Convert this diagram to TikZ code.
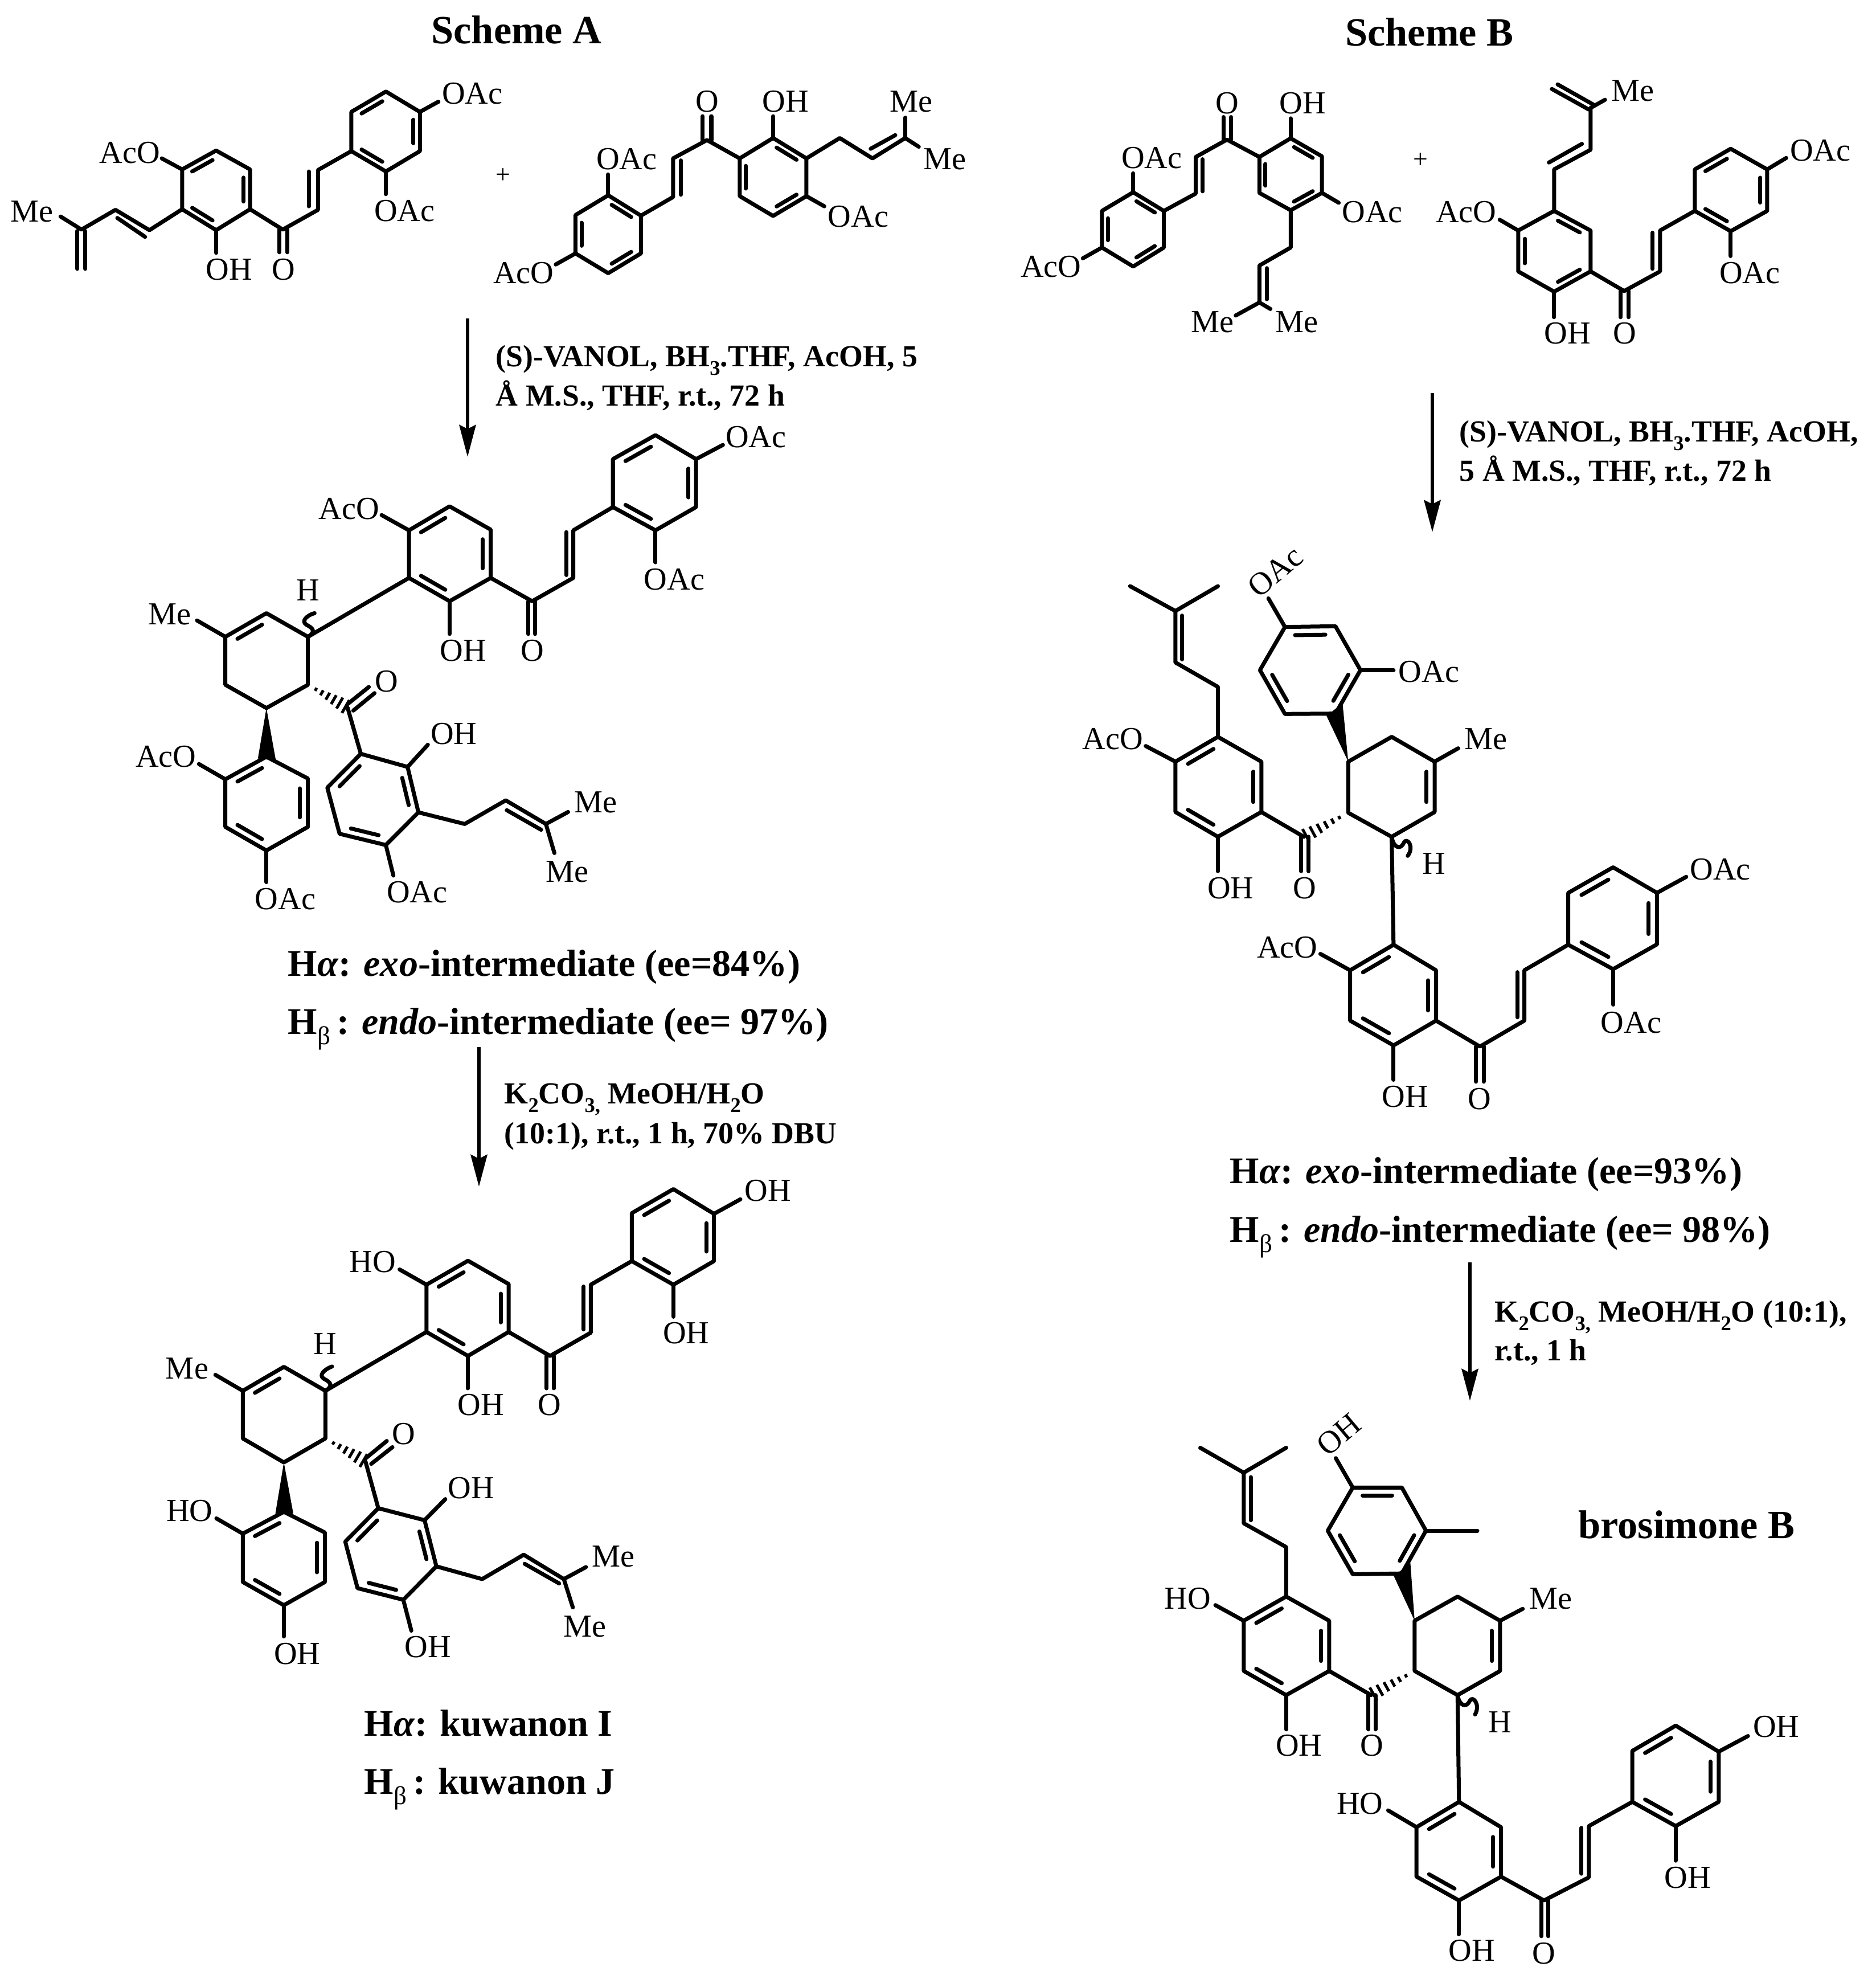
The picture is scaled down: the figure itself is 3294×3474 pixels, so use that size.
\documentclass[tikz,border=0pt]{standalone}
\usepackage{fontspec}
\usepackage{graphicx}
\setmainfont{Liberation Serif}
\usetikzlibrary{calc,arrows.meta}
\newcounter{lb}
\newcommand{\sbs}[1]{\raisebox{-.28em}{\scalebox{.68}{#1}}}
\tikzset{
  bond/.style={line width=.07cm,line cap=round,line join=round,black},
  atom/.style={font=\fontsize{16}{18}\selectfont,inner sep=0pt},
  head/.style={font=\fontsize{18.8}{22}\selectfont\bfseries,inner sep=0pt,anchor=base west},
  titl/.style={font=\fontsize{20}{22}\selectfont\bfseries,inner sep=0pt,anchor=base},
  reag/.style={font=\fontsize{15.3}{18}\selectfont\bfseries,inner sep=0pt,anchor=base west},
  rxn/.style={line width=.06cm,-{Stealth[length=.56cm,width=.29cm,inset=.07cm]}},
}
\newcommand{\lab}[3][]{\stepcounter{lb}\node[atom,#1] (lb\thelb) at (#2) {#3};}
\newcommand{\hexring}[7]{%
  \coordinate (#1-1) at (#2);\coordinate (#1-2) at (#3);\coordinate (#1-3) at (#4);
  \coordinate (#1-4) at (#5);\coordinate (#1-5) at (#6);\coordinate (#1-6) at (#7);
  \coordinate (#1-c) at (barycentric cs:#1-1=1,#1-4=1);
  \draw[bond] (#1-1)--(#1-2)--(#1-3)--(#1-4)--(#1-5)--(#1-6)--cycle;}
\newcommand{\dbl}[3]{\draw[bond] ($(#1-#2)!.13!(#1-#3)!.19!(#1-c)$) -- ($(#1-#3)!.13!(#1-#2)!.19!(#1-c)$);}
\newcommand{\hashw}[2]{\foreach \t/\w in {.2/.03cm,.35/.05cm,.5/.07cm,.65/.09cm,.8/.11cm,.95/.13cm}
  \draw[line width=.05cm] ($(#1)!\t!(#2)!\w!90:(#2)$) -- ($(#1)!\t!(#2)!\w!-90:(#2)$);}
\begin{document}
\begin{tikzpicture}[x=.01cm,y=-.01cm]
\path[use as bounding box] (0,0) rectangle (3294,3474);
% ---------- texts and arrows
\node[titl] (ta) at (907,76) {Scheme A};
\node[titl] (tb) at (2510,80) {Scheme B};
\node[reag] (r1a) at (870,643) {(S)-VANOL, BH\sbs{3}.THF, AcOH, 5};
\node[reag] (r1b) at (870,712) {Å M.S., THF, r.t., 72 h};
\node[head] (h1a) at (505,1713) {H\textit{α}: \textit{exo}-intermediate (ee=84\%)};
\node[head] (h1b) at (505,1815) {H\sbs{\mdseries β}\,: \textit{endo}-intermediate (ee= 97\%)};
\node[reag] (r2a) at (885,1937) {K\sbs{2}CO\sbs{3,} MeOH/H\sbs{2}O};
\node[reag] (r2b) at (885,2007) {(10:1), r.t., 1 h, 70\% DBU};
\node[head] (k1a) at (639,3047) {H\textit{α}: kuwanon I};
\node[head] (k1b) at (639,3149) {H\sbs{\mdseries β}\,: kuwanon J};
\node[reag] (r3a) at (2562,775) {(S)-VANOL, BH\sbs{3}.THF, AcOH,};
\node[reag] (r3b) at (2562,844) {5 Å M.S., THF, r.t., 72 h};
\node[head] (h2a) at (2159,2077) {H\textit{α}: \textit{exo}-intermediate (ee=93\%)};
\node[head] (h2b) at (2159,2180) {H\sbs{\mdseries β}\,: \textit{endo}-intermediate (ee= 98\%)};
\node[reag] (r4a) at (2624,2320) {K\sbs{2}CO\sbs{3,} MeOH/H\sbs{2}O (10:1),};
\node[reag] (r4b) at (2624,2388) {r.t., 1 h};
\coordinate (a1s) at (821,559); \coordinate (a1e) at (821,802);
\coordinate (a2s) at (841,1838); \coordinate (a2e) at (841,2083);
\coordinate (a3s) at (2515,690); \coordinate (a3e) at (2515,934);
\coordinate (a4s) at (2581,2216); \coordinate (a4e) at (2581,2459);
\draw[rxn] (a1s)--(a1e);
\draw[rxn] (a2s)--(a2e);
\draw[rxn] (a3s)--(a3e);
\draw[rxn] (a4s)--(a4e);
% ---------- top of scheme A
\begin{scope}[shift={(0,0)},x=1.0842*.01cm,y=-.5102*.01cm]
\hexring{a}{350,518}{405,583}{405,720}{350,792}{295,720}{295,583}
\dbl{a}{6}{1}\dbl{a}{2}{3}\dbl{a}{5}{4}
\lab{210,525}{AcO}\draw[bond] (a-6)--(262,545);
\draw[bond] (a-4)--(350,870);\lab{371,927}{OH}
\lab{52,728}{Me}
\draw[bond] (98,745)--(132,790)--(187,722)--(242,792)--(a-5);
\draw[bond] (190,750)--(235,815);
\draw[bond] (125,795)--(125,925) (138,795)--(138,925);
\draw[bond] (a-3)--(458,790)--(515,722)--(515,585)--(569,520);
\draw[bond] (452,790)--(452,868) (465,790)--(465,868);\lab{459,927}{O}
\draw[bond] (500,590)--(500,710);
\hexring{b}{625,315}{680,385}{680,520}{625,590}{569,520}{569,385}
\dbl{b}{6}{1}\dbl{b}{2}{3}\dbl{b}{5}{4}
\lab{765,322}{OAc}\draw[bond] (b-2)--(710,350);
\draw[bond] (b-4)--(625,668);\lab{655,725}{OAc}
\node[font=\fontsize{13}{15}\selectfont,inner sep=0pt] (plusa) at (815,605) {+};
\hexring{c}{985,672}{1038,742}{1038,872}{985,940}{932,872}{932,740}
\dbl{c}{1}{2}\dbl{c}{3}{4}\dbl{c}{5}{6}
\lab{1015,548}{OAc}\draw[bond] (c-1)--(985,600);
\lab{848,940}{AcO}\draw[bond] (c-5)--(900,910);
\hexring{d}{1252,475}{1306,545}{1306,675}{1252,743}{1198,675}{1198,545}
\dbl{d}{1}{2}\dbl{d}{3}{4}\dbl{d}{5}{6}
\draw[bond] (c-2)--(1090,678)--(1090,545)--(1145,482)--(d-6);
\draw[bond] (1103,552)--(1103,670);
\draw[bond] (1138,482)--(1138,400) (1152,482)--(1152,400);\lab{1145,350}{O}
\draw[bond] (d-1)--(1252,400);\lab{1272,350}{OH}
\draw[bond] (d-3)--(1335,710);\lab{1390,745}{OAc}
\draw[bond] (d-2)--(1360,475)--(1413,545)--(1466,475)--(1466,405);
\draw[bond] (1410,512)--(1450,465);
\draw[bond] (1466,475)--(1488,505);
\lab{1476,350}{Me}\lab{1530,548}{Me}
\end{scope}
% ---------- intermediate A
\begin{scope}[shift={(200,700)},x=.829*.01cm,y=-.638*.01cm]
\hexring{e}{711,296}{798,360}{798,493}{711,557}{625,493}{625,362}
\dbl{e}{6}{1}\dbl{e}{2}{3}\dbl{e}{5}{4}
\lab{498,302}{AcO}\draw[bond] (e-6)--(567,320);
\draw[bond] (e-4)--(711,647);\lab{740,693}{OH}
\hexring{f}{1147,100}{1233,166}{1233,298}{1147,362}{1057,298}{1057,166}
\dbl{f}{6}{1}\dbl{f}{2}{3}\dbl{f}{5}{4}
\draw[bond] (e-3)--(886,557)--(973,493)--(973,362)--(f-5);
\draw[bond] (958,367)--(958,485);
\draw[bond] (878,557)--(878,647) (892,557)--(892,647);\lab{886,693}{O}
\lab{1360,105}{OAc}\draw[bond] (f-2)--(1290,127);
\lab{1187,497}{OAc}\draw[bond] (f-4)--(1147,450);
\hexring{g}{323,590}{411,655}{411,787}{323,851}{236,787}{236,655}
\dbl{g}{6}{1}
\draw[bond] (e-5)--(g-2);
\draw[bond] (g-2) .. controls (430,640) and (420,630) .. (408,622) .. controls (395,612) and (410,595) .. (425,590);
\lab{411,527}{H}
\draw[bond] (g-6)--(176,610);\lab{118,593}{Me}
\coordinate (eo) at (495,850);
\hashw{g-3}{eo}
\draw[bond] (495,840)--(540,793) (507,858)--(552,810);\lab{577,777}{O}
\hexring{h}{523,977}{622,1013}{645,1138}{576,1228}{478,1197}{452,1070}
\dbl{h}{1}{6}\dbl{h}{2}{3}\dbl{h}{4}{5}
\draw[bond] (eo)--(h-1);
\draw[bond] (h-2)--(665,952);\lab{720,922}{OH}
\draw[bond] (h-4)--(592,1312);\lab{642,1358}{OAc}
\draw[bond] (h-3)--(743,1170)--(830,1105)--(915,1170)--(962,1137);
\draw[bond] (832,1132)--(905,1186);
\draw[bond] (915,1170)--(933,1250);
\lab{1020,1110}{Me}\lab{960,1302}{Me}
\hexring{i}{323,985}{411,1045}{411,1178}{323,1243}{236,1178}{236,1047}
\dbl{i}{6}{1}\dbl{i}{2}{3}\dbl{i}{5}{4}
\fill (g-4)--(305,990)--(343,995)--cycle;
\draw[bond] (i-6)--(180,1005);\lab{110,985}{AcO}
\draw[bond] (i-4)--(323,1330);\lab{363,1377}{OAc}
\end{scope}
% ---------- kuwanon
\begin{scope}[shift={(200,2000)},x=.829*.01cm,y=-.638*.01cm]
\hexring{j}{750,334}{836,398}{836,530}{750,596}{662,530}{662,400}
\dbl{j}{6}{1}\dbl{j}{2}{3}\dbl{j}{5}{4}
\lab{548,337}{HO}\draw[bond] (j-6)--(605,358);
\draw[bond] (j-4)--(750,685);\lab{777,730}{OH}
\hexring{k}{1185,137}{1271,205}{1271,335}{1185,400}{1097,335}{1097,203}
\dbl{k}{6}{1}\dbl{k}{2}{3}\dbl{k}{5}{4}
\draw[bond] (j-3)--(924,596)--(1010,532)--(1010,400)--(k-5);
\draw[bond] (995,405)--(995,523);
\draw[bond] (916,596)--(916,685) (932,596)--(932,685);\lab{923,730}{O}
\lab{1385,142}{OH}\draw[bond] (k-2)--(1327,165);
\lab{1212,533}{OH}\draw[bond] (k-4)--(1185,488);
\hexring{l}{360,626}{448,692}{448,823}{360,889}{273,823}{273,692}
\dbl{l}{6}{1}
\draw[bond] (j-5)--(l-2);
\draw[bond] (l-2) .. controls (467,677) and (457,667) .. (445,659) .. controls (432,649) and (447,632) .. (462,625);
\lab{447,563}{H}
\draw[bond] (l-6)--(215,648);\lab{155,630}{Me}
\coordinate (jo) at (533,887);
\hashw{l-3}{jo}
\draw[bond] (533,878)--(578,830) (545,893)--(590,847);\lab{614,811}{O}
\hexring{m}{560,1015}{658,1048}{683,1175}{613,1267}{516,1235}{490,1107}
\dbl{m}{1}{6}\dbl{m}{2}{3}\dbl{m}{4}{5}
\draw[bond] (jo)--(m-1);
\draw[bond] (m-2)--(702,990);\lab{757,960}{OH}
\draw[bond] (m-4)--(630,1352);\lab{665,1397}{OH}
\draw[bond] (m-3)--(780,1210)--(868,1143)--(953,1210)--(1000,1177);
\draw[bond] (870,1168)--(943,1222);
\draw[bond] (953,1210)--(972,1288);
\lab{1058,1148}{Me}\lab{997,1340}{Me}
\hexring{n}{360,1025}{447,1082}{447,1218}{360,1282}{273,1218}{273,1085}
\dbl{n}{6}{1}\dbl{n}{2}{3}\dbl{n}{5}{4}
\fill (l-4)--(342,1030)--(380,1030)--cycle;
\draw[bond] (n-6)--(217,1043);\lab{160,1022}{HO}
\draw[bond] (n-4)--(360,1368);\lab{388,1415}{OH}
\end{scope}
% ---------- top of scheme B
\begin{scope}[shift={(1700,0)},x=1.0166*.01cm,y=-.574*.01cm]
\hexring{o}{285,588}{338,645}{338,757}{285,815}{231,757}{231,645}
\dbl{o}{1}{2}\dbl{o}{3}{4}\dbl{o}{5}{6}
\lab{317,482}{OAc}\draw[bond] (o-1)--(285,530);
\lab{143,815}{AcO}\draw[bond] (o-5)--(198,790);
\hexring{p}{557,423}{611,478}{611,590}{557,643}{503,590}{503,480}
\dbl{p}{1}{2}\dbl{p}{3}{4}\dbl{p}{5}{6}
\draw[bond] (o-2)--(393,592)--(393,480)--(447,427)--(p-6);
\draw[bond] (405,487)--(405,585);
\draw[bond] (441,427)--(441,358) (454,427)--(454,358);\lab{447,315}{O}
\draw[bond] (p-1)--(557,362);\lab{578,315}{OH}
\draw[bond] (p-3)--(640,620);\lab{698,648}{OAc}
\draw[bond] (p-4)--(557,757)--(503,812)--(503,925)--(462,965);
\draw[bond] (516,820)--(516,915);
\draw[bond] (503,925)--(522,945);
\lab{422,985}{Me}\lab{568,985}{Me}
\node[font=\fontsize{13}{15}\selectfont,inner sep=0pt] (plusb) at (781,490) {+};
\draw[bond] (1018,258)--(1080,320) (1008,272)--(1072,335);
\lab{1148,277}{Me}\draw[bond] (1075,330)--(1100,305);
\hexring{q}{1012,645}{1075,705}{1075,830}{1012,892}{950,830}{950,705}
\dbl{q}{1}{2}\dbl{q}{3}{4}\dbl{q}{5}{6}
\draw[bond] (1075,330)--(1075,458)--(1012,518)--(q-1);
\draw[bond] (1060,440)--(1003,497);
\lab{860,648}{AcO}\draw[bond] (q-6)--(918,672);
\draw[bond] (q-4)--(1012,970);\lab{1035,1020}{OH}
\hexring{r}{1317,455}{1380,518}{1380,645}{1317,707}{1255,645}{1255,518}
\dbl{r}{6}{1}\dbl{r}{2}{3}\dbl{r}{5}{4}
\draw[bond] (q-3)--(1133,890)--(1195,830)--(1195,705)--(r-5);
\draw[bond] (1182,712)--(1182,822);
\draw[bond] (1127,890)--(1127,970) (1141,890)--(1141,970);\lab{1134,1020}{O}
\lab{1472,460}{OAc}\draw[bond] (r-2)--(1413,483);
\lab{1350,835}{OAc}\draw[bond] (r-4)--(1317,783);
\end{scope}
% ---------- intermediate B
\begin{scope}[shift={(1850,950)},x=.829*.01cm,y=-.6696*.01cm]
\hexring{s}{348,513}{440,578}{440,710}{348,775}{258,710}{258,578}
\dbl{s}{6}{1}\dbl{s}{2}{3}\dbl{s}{5}{4}
\draw[bond] (162,118)--(258,183)--(348,118) (258,183)--(258,318)--(348,382)--(s-1);
\draw[bond] (272,195)--(272,310);
\lab{125,518}{AcO}\draw[bond] (s-6)--(195,537);
\draw[bond] (s-4)--(348,865);\lab{375,910}{OH}
\coordinate (so) at (530,775);
\draw[bond] (s-3)--(so);
\draw[bond] (524,775)--(524,865) (540,775)--(540,865);\lab{532,910}{O}
\hexring{t}{716,513}{807,578}{807,710}{716,775}{624,712}{624,578}
\dbl{t}{2}{3}
\hashw{t-5}{so}
\draw[bond] (t-2)--(857,543);\lab{915,518}{Me}
\hexring{u}{490,225}{597,223}{650,338}{597,452}{490,453}{437,338}
\dbl{u}{1}{2}\dbl{u}{3}{4}\dbl{u}{5}{6}
\fill (t-6)--(578,458)--(612,425)--cycle;
\draw[bond] (u-1)--(455,150);\lab[rotate=40]{470,80}{OAc}
\draw[bond] (u-3)--(720,338);\lab{795,342}{OAc}
\draw[bond] (t-4) .. controls (720,805) and (735,810) .. (742,790) .. controls (748,775) and (765,800) .. (750,825);
\lab{806,845}{H}
\hexring{v}{720,1058}{810,1125}{810,1257}{720,1322}{628,1257}{628,1125}
\dbl{v}{6}{1}\dbl{v}{2}{3}\dbl{v}{5}{4}
\draw[bond] (t-4)--(v-1);
\lab{495,1065}{AcO}\draw[bond] (v-6)--(565,1082);
\draw[bond] (v-4)--(720,1412);\lab{745,1457}{OH}
\hexring{w}{1185,855}{1278,922}{1278,1057}{1185,1122}{1090,1058}{1090,922}
\dbl{w}{6}{1}\dbl{w}{2}{3}\dbl{w}{5}{4}
\draw[bond] (v-3)--(903,1325)--(997,1257)--(997,1125)--(w-5);
\draw[bond] (982,1130)--(982,1248);
\draw[bond] (895,1325)--(895,1417) (911,1325)--(911,1417);\lab{902,1462}{O}
\lab{1412,860}{OAc}\draw[bond] (w-2)--(1340,880);
\lab{1223,1262}{OAc}\draw[bond] (w-4)--(1185,1215);
\end{scope}
% ---------- brosimone B
\begin{scope}[shift={(1950,2450)},x=.829*.01cm,y=-.653*.01cm]
\node[titl,anchor=center] (bros) at (1220,347) {brosimone B};
\hexring{x}{372,540}{463,605}{463,740}{372,805}{282,740}{282,605}
\dbl{x}{6}{1}\dbl{x}{2}{3}\dbl{x}{5}{4}
\draw[bond] (190,140)--(282,207)--(372,140) (282,207)--(282,343)--(372,407)--(x-1);
\draw[bond] (297,219)--(297,335);
\lab{163,545}{HO}\draw[bond] (x-6)--(222,563);
\draw[bond] (x-4)--(372,897);\lab{399,940}{OH}
\coordinate (xo) at (552,805);
\draw[bond] (x-3)--(xo);
\draw[bond] (546,805)--(546,897) (561,805)--(561,897);\lab{553,940}{O}
\hexring{y}{735,540}{825,605}{825,740}{735,805}{644,740}{644,605}
\dbl{y}{2}{3}
\hashw{y-5}{xo}
\draw[bond] (y-2)--(873,573);\lab{932,545}{Me}
\hexring{z}{513,247}{617,247}{668,363}{617,478}{513,480}{460,363}
\dbl{z}{1}{2}\dbl{z}{3}{4}\dbl{z}{5}{6}
\fill (y-6)--(600,485)--(635,450)--cycle;
\draw[bond] (z-1)--(477,168);\lab[rotate=40]{483,105}{OH}
\draw[bond] (z-3)--(777,363);
\draw[bond] (y-4) .. controls (739,835) and (754,840) .. (761,820) .. controls (767,805) and (784,830) .. (772,857);
\lab{825,878}{H}
\hexring{aa}{738,1092}{827,1160}{827,1293}{738,1357}{648,1293}{648,1160}
\dbl{aa}{6}{1}\dbl{aa}{2}{3}\dbl{aa}{5}{4}
\draw[bond] (y-4)--(aa-1);
\lab{528,1097}{HO}\draw[bond] (aa-6)--(588,1115);
\draw[bond] (aa-4)--(738,1448);\lab{765,1492}{OH}
\hexring{ab}{1197,887}{1288,957}{1288,1092}{1197,1157}{1105,1092}{1105,955}
\dbl{ab}{6}{1}\dbl{ab}{2}{3}\dbl{ab}{5}{4}
\draw[bond] (aa-3)--(918,1357)--(1013,1295)--(1013,1157)--(ab-5);
\draw[bond] (997,1162)--(997,1285);
\draw[bond] (912,1357)--(912,1453) (927,1357)--(927,1453);\lab{918,1500}{O}
\lab{1410,890}{OH}\draw[bond] (ab-2)--(1350,915);
\lab{1222,1295}{OH}\draw[bond] (ab-4)--(1197,1250);
\end{scope}
\end{tikzpicture}
\end{document}
